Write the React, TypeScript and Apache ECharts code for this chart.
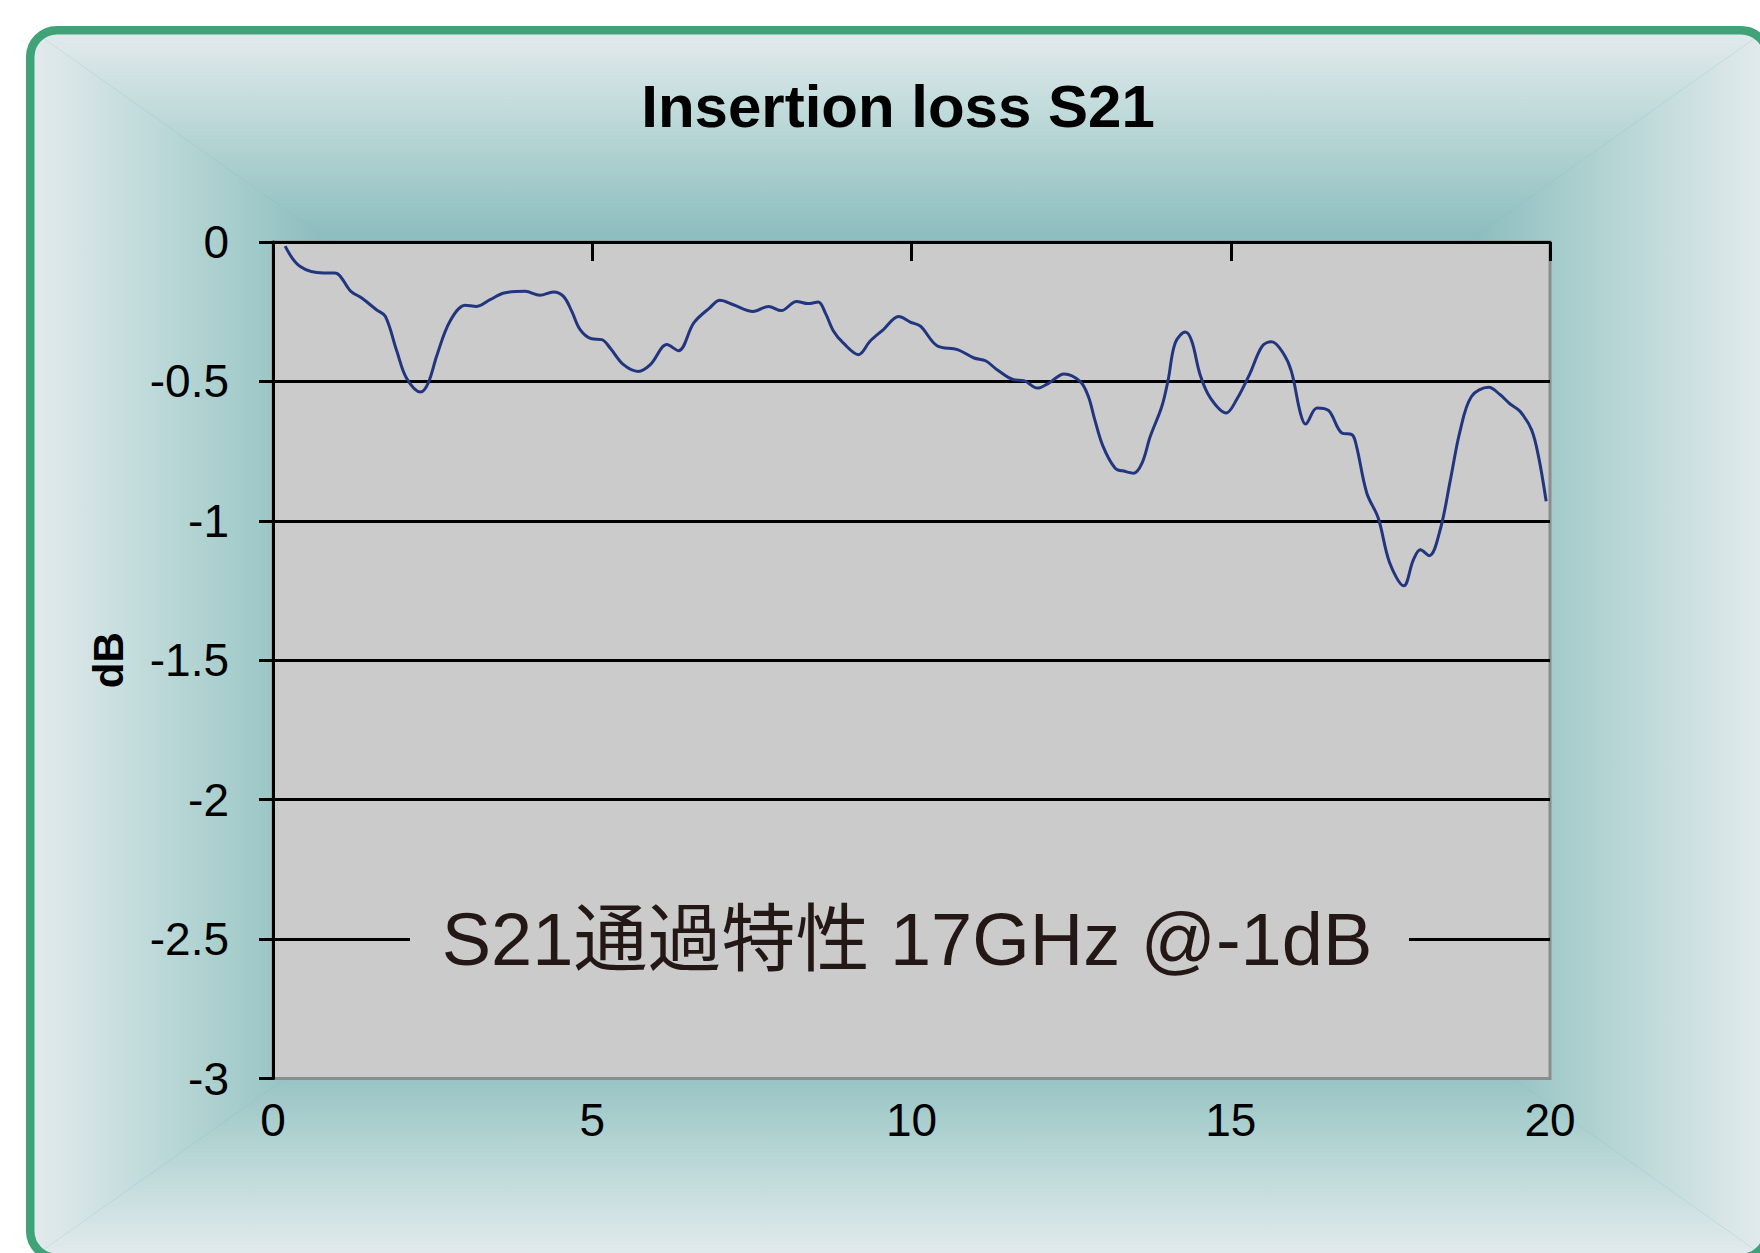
import React, { useEffect, useRef } from "react";
import * as echarts from "echarts";

const TITLE = "Insertion loss S21";
const Y_NAME = "dB";
const NOTE = "S21通過特性 17GHz @-1dB";

const X_MIN = 0;
const X_MAX = 20;
const X_STEP = 5;
const Y_MIN = -3;
const Y_MAX = 0;
const Y_STEP = 0.5;

const freqGHz = [
  0.19, 0.42, 0.79, 0.97, 1.22, 1.39, 1.62, 1.76, 1.94, 2.09, 2.31, 2.43, 2.57, 2.77, 3.01, 3.19, 3.4, 3.62,
  3.95, 4.18, 4.39, 4.55, 4.68, 4.81, 4.99, 5.15, 5.28, 5.49, 5.72, 5.91, 6.17, 6.35, 6.59, 6.84, 7.0, 7.21,
  7.52, 7.76, 7.96, 8.2, 8.38, 8.54, 8.65, 8.78, 8.93, 9.17, 9.35, 9.56, 9.8, 9.98, 10.14, 10.4, 10.72, 10.98,
  11.16, 11.34, 11.6, 11.76, 11.97, 12.15, 12.39, 12.64, 12.77, 12.87, 13.0, 13.19, 13.35, 13.48, 13.61, 13.74,
  13.92, 14.02, 14.13, 14.29, 14.39, 14.52, 14.68, 14.93, 15.09, 15.3, 15.49, 15.64, 15.82, 15.95, 16.09, 16.17,
  16.35, 16.53, 16.74, 16.9, 16.97, 17.13, 17.31, 17.49, 17.71, 17.86, 17.97, 18.11, 18.28, 18.44, 18.59, 18.77,
  19.04, 19.22, 19.37, 19.53, 19.71, 19.82, 19.94,
];

const s21dB = [
  -0.015, -0.087, -0.111, -0.111, -0.177, -0.201, -0.243, -0.267, -0.392, -0.488, -0.538, -0.506, -0.404, -0.285,
  -0.227, -0.231, -0.207, -0.183, -0.177, -0.191, -0.179, -0.195, -0.249, -0.314, -0.347, -0.35, -0.38, -0.44,
  -0.464, -0.44, -0.368, -0.39, -0.29, -0.236, -0.209, -0.225, -0.249, -0.231, -0.246, -0.213, -0.221, -0.215,
  -0.254, -0.32, -0.362, -0.404, -0.356, -0.314, -0.267, -0.287, -0.302, -0.372, -0.386, -0.416, -0.426, -0.458,
  -0.494, -0.497, -0.524, -0.506, -0.473, -0.5, -0.554, -0.637, -0.733, -0.811, -0.823, -0.829, -0.793, -0.697,
  -0.59, -0.494, -0.362, -0.323, -0.356, -0.476, -0.559, -0.613, -0.566, -0.472, -0.374, -0.358, -0.398, -0.464,
  -0.613, -0.653, -0.595, -0.604, -0.685, -0.691, -0.733, -0.9, -0.99, -1.151, -1.233, -1.14, -1.104, -1.125,
  -1.032, -0.853, -0.679, -0.554, -0.521, -0.548, -0.58, -0.607, -0.673, -0.769, -0.93,
];

const LATIN = '"Liberation Sans", Arial, Helvetica, sans-serif';
const MIXED = '"Liberation Sans", "Noto Sans CJK JP", sans-serif';

// card geometry
const OL = 26, OT = 26, OR = 1772, OB = 1262, RAD = 31, BW = 8.5;
const CX = (OL + OR) / 2, CY = (OT + OB) / 2;

const gradStops = [
  { offset: 0, color: "#e4eaee" },
  { offset: 0.04, color: "#dbe7e9" },
  { offset: 0.18, color: "#b5d5d4" },
  { offset: 0.27, color: "#9fc8c8" },
  { offset: 0.334, color: "#8fbec0" },
  { offset: 0.5, color: "#86b8ba" },
  { offset: 1, color: "#80b4b6" },
];

function cornerMask(cornerX: number, cornerY: number, ccx: number, ccy: number, a0: number) {
  const pts: number[][] = [[cornerX, cornerY]];
  for (let i = 0; i <= 16; i++) {
    const a = a0 + (Math.PI / 2) * (i / 16);
    pts.push([ccx + RAD * Math.cos(a), ccy + RAD * Math.sin(a)]);
  }
  return {
    type: "polygon",
    z: -5,
    silent: true,
    shape: { points: pts },
    style: { fill: "#ffffff" },
  };
}

export default function App() {
  const ref = useRef<HTMLDivElement>(null);

  useEffect(() => {
    const chart = echarts.init(ref.current!, null, { renderer: "svg" });
    const LG = echarts.graphic.LinearGradient;

    const option: any = {
      animation: false,
      grid: {
        left: 273,
        top: 242,
        right: 1760 - 1550,
        bottom: 1253 - 1078.5,
        show: true,
        backgroundColor: "#cbcbcb",
        borderColor: "#8c8c8c",
        borderWidth: 3,
      },
      xAxis: [
        {
          type: "value",
          position: "bottom",
          min: X_MIN,
          max: X_MAX,
          interval: X_STEP,
          axisLine: { show: false },
          axisTick: { show: false },
          splitLine: { show: false },
          axisLabel: { fontSize: 46, color: "#000", margin: 18, fontFamily: LATIN },
        },
        {
          type: "value",
          position: "top",
          min: X_MIN,
          max: X_MAX,
          interval: X_STEP,
          axisLine: { show: true, onZero: false, lineStyle: { color: "#000", width: 3 } },
          axisTick: { show: true, inside: true, length: 19, lineStyle: { color: "#000", width: 3 } },
          splitLine: { show: false },
          axisLabel: { show: false },
        },
      ],
      yAxis: {
        type: "value",
        min: Y_MIN,
        max: Y_MAX,
        interval: Y_STEP,
        name: Y_NAME,
        nameLocation: "middle",
        nameGap: 144,
        nameRotate: 90,
        nameTextStyle: { fontSize: 42, fontWeight: "bold", color: "#000", fontFamily: LATIN },
        axisLine: { show: true, onZero: false, lineStyle: { color: "#000", width: 3 } },
        axisTick: { show: true, inside: false, length: 14, lineStyle: { color: "#000", width: 3 } },
        splitLine: { show: true, showMinLine: false, showMaxLine: false, lineStyle: { color: "#000", width: 3 } },
        axisLabel: { fontSize: 46, color: "#000", margin: 44, fontFamily: LATIN },
      },
      series: [
        {
          type: "line",
          xAxisIndex: 0,
          data: freqGHz.map((f, i) => [f, s21dB[i]]),
          smooth: 0.35,
          showSymbol: false,
          symbol: "none",
          lineStyle: { color: "#22357f", width: 3 },
          z: 3,
        },
      ],
      graphic: [
        {
          type: "rect",
          z: -10,
          silent: true,
          shape: { x: OL, y: OT, width: OR - OL, height: OB - OT, r: RAD },
          style: { fill: "#80b4b6" },
        },
        {
          type: "polygon",
          z: -9,
          silent: true,
          shape: { points: [[OL, OT], [OR, OT], [CX, CY]] },
          style: { fill: new LG(0, 0, 0, 1, gradStops) },
        },
        {
          type: "polygon",
          z: -9,
          silent: true,
          shape: { points: [[OL, OB], [OR, OB], [CX, CY]] },
          style: { fill: new LG(0, 1, 0, 0, gradStops) },
        },
        {
          type: "polygon",
          z: -9,
          silent: true,
          shape: { points: [[OL, OT], [OL, OB], [CX, CY]] },
          style: { fill: new LG(0, 0, 1, 0, gradStops) },
        },
        {
          type: "polygon",
          z: -9,
          silent: true,
          shape: { points: [[OR, OT], [OR, OB], [CX, CY]] },
          style: { fill: new LG(1, 0, 0, 0, gradStops) },
        },
        cornerMask(OL, OT, OL + RAD, OT + RAD, Math.PI),
        cornerMask(OR, OT, OR - RAD, OT + RAD, -Math.PI / 2),
        cornerMask(OR, OB, OR - RAD, OB - RAD, 0),
        cornerMask(OL, OB, OL + RAD, OB - RAD, Math.PI / 2),
        {
          type: "rect",
          z: -4,
          silent: true,
          shape: {
            x: OL + BW / 2,
            y: OT + BW / 2,
            width: OR - OL - BW,
            height: OB - OT - BW,
            r: RAD - BW / 2,
          },
          style: { fill: "none", stroke: "#40a378", lineWidth: BW },
        },
        {
          type: "text",
          z: 100,
          x: 898,
          y: 106,
          style: {
            text: TITLE,
            fill: "#000",
            font: `bold 60px ${LATIN}`,
            align: "center",
            verticalAlign: "middle",
          },
        },
        {
          type: "rect",
          z: 90,
          silent: true,
          shape: { x: 410, y: 905, width: 999, height: 70 },
          style: { fill: "#cbcbcb" },
        },
        {
          type: "text",
          z: 100,
          x: 907,
          y: 939,
          style: {
            text: NOTE,
            fill: "#231815",
            font: `normal 74px ${MIXED}`,
            align: "center",
            verticalAlign: "middle",
          },
        },
      ],
    };

    chart.setOption(option);
    return () => chart.dispose();
  }, []);

  return (
    <div
      ref={ref}
      style={{ position: "absolute", left: 0, top: 0, width: 1760, height: 1253 }}
    />
  );
}
